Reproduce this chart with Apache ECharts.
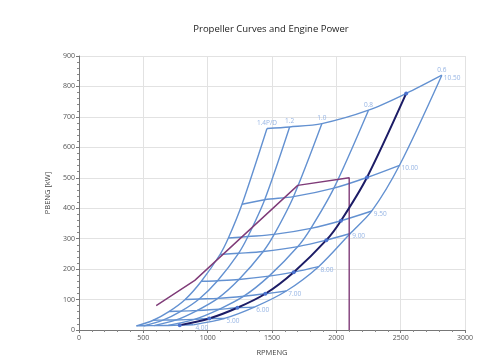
<!DOCTYPE html>
<html><head><meta charset="utf-8">
<script src="https://cdn.jsdelivr.net/npm/echarts@6/dist/echarts.min.js"></script>
<style>html,body{margin:0;padding:0;background:#fff}#c{width:486px;height:362px}</style>
</head><body><div id="c"></div>
<script>
// Speeds (knots) of the constant-speed lines
var speeds = ['4.00','5.00','6.00','7.00','8.00','9.00','9.50','10.00','10.50'];
// Pitch (P/D) lines: RPM and power [kW] at each speed
var pitchNames = ['1.4P/D','1.2','1.0','0.8','0.6'];
var rpm14 = [446, 577, 702, 825, 951, 1096, 1161, 1267, 1461];
var kw14  = [13.5, 32, 61, 100, 160, 248, 302, 413, 662];
var rpm12 = [505, 653, 794, 934, 1077, 1240, 1313, 1443, 1637];
var kw12  = [14, 32.5, 62, 102, 162, 252, 307, 428, 667];
var rpm10 = [583, 755, 917, 1079, 1243, 1432, 1517, 1667, 1888];
var kw10  = [14.5, 33, 64, 104, 166, 258, 314, 438, 678];
var rpm08 = [693, 897, 1089, 1281, 1477, 1701, 1802, 1981, 2250];
var kw08  = [15, 35, 68, 111, 177, 274, 334, 466, 722];
var rpm06 = [889, 1131, 1363, 1611, 1862, 2108, 2276, 2491, 2820];
var kw06  = [17, 38, 75, 128, 208, 317, 391, 541, 837];
// Operating (dark) curve
var rpmOp = [783, 1013, 1231, 1448, 1669, 1922, 2036, 2238, 2543];
var kwOp  = [16, 38, 73, 119, 190, 295, 359, 501, 777];
// Engine power limit
var rpmEng = [600, 900, 1700, 2100, 2100];
var kwEng  = [80, 163, 475, 500, 0];

var pitchRpm = [rpm14, rpm12, rpm10, rpm08, rpm06];
var pitchKw  = [kw14, kw12, kw10, kw08, kw06];

function pairs(a, b) { return a.map(function (v, i) { return [v, b[i]]; }); }

var blue = '#6391d1';
var labelBlue = '#7da3dd';
var font = '"Open Sans", "Noto Sans", sans-serif';
var series = [];

// Pitch lines
pitchRpm.forEach(function (r, k) {
  series.push({ type: 'line', name: pitchNames[k], data: pairs(r, pitchKw[k]), smooth: 0.3,
    showSymbol: false, lineStyle: { color: blue, width: 1.4 }, z: 2, silent: true });
});
// Speed lines (through pitch 1.4,1.2,1.0,0.8, operating, 0.6)
speeds.forEach(function (s, i) {
  var d = [[rpm14[i], kw14[i]], [rpm12[i], kw12[i]], [rpm10[i], kw10[i]], [rpm08[i], kw08[i]], [rpmOp[i], kwOp[i]], [rpm06[i], kw06[i]]];
  series.push({ type: 'line', name: s, data: d, smooth: 0.3, showSymbol: false,
    lineStyle: { color: blue, width: 1.4 }, z: 2, silent: true });
});
// Engine power
series.push({ type: 'line', data: pairs(rpmEng, kwEng), showSymbol: false,
  lineStyle: { color: '#7f3b78', width: 1.4 }, z: 3, silent: true });
// Operating curve
series.push({ type: 'line', data: pairs(rpmOp, kwOp), smooth: 0.3, symbol: 'circle', symbolSize: 4,
  lineStyle: { color: '#1c1c66', width: 2 }, itemStyle: { color: '#4b72cf' }, z: 4, silent: true });
// Speed labels at 0.6 end
series.push({ type: 'scatter', symbolSize: 0, z: 5, silent: true,
  data: speeds.map(function (s, i) { return [rpm06[i], kw06[i], s]; }),
  label: { show: true, position: 'right', distance: 2, offset: [0, 3], color: labelBlue, fontSize: 6.5, fontFamily: font,
    formatter: function (p) { return p.value[2]; } } });
// Pitch labels at top ends
series.push({ type: 'scatter', symbolSize: 0, z: 5, silent: true,
  data: pitchRpm.map(function (r, k) { return [r[8], pitchKw[k][8], pitchNames[k]]; }),
  label: { show: true, position: 'top', distance: 2, color: labelBlue, fontSize: 6.5, fontFamily: font,
    formatter: function (p) { return p.value[2]; } } });

var axisCommon = {
  axisLine: { show: true, lineStyle: { color: '#777', width: 1 } },
  axisTick: { show: true, length: 3, lineStyle: { color: '#777' } },
  minorTick: { show: true, splitNumber: 5, length: 2, lineStyle: { color: '#888' } },
  splitLine: { show: true, lineStyle: { color: '#e2e2e2', width: 1 } },
  axisLabel: { color: '#555', fontSize: 7, fontFamily: font, margin: 4,
    formatter: function (v) { return String(v); } },
  nameTextStyle: { color: '#444', fontSize: 7.5, fontFamily: font }
};

var chart = echarts.init(document.getElementById('c'), null, { renderer: 'canvas' });
chart.setOption({
  animation: false,
  backgroundColor: '#fff',
  title: { text: 'Propeller Curves and Engine Power', left: 266, top: 19, textAlign: 'center',
    textStyle: { fontSize: 9.5, fontWeight: 'normal', color: '#222', fontFamily: font } },
  grid: { left: 79, right: 21, top: 56, bottom: 32 },
  xAxis: Object.assign({}, axisCommon, { type: 'value', min: 0, max: 3000, interval: 500,
    name: 'RPMENG', nameLocation: 'middle', nameGap: 19 }),
  yAxis: Object.assign({}, axisCommon, { type: 'value', min: 0, max: 900, interval: 100,
    name: 'PBENG [kW]', nameLocation: 'middle', nameGap: 22 }),
  series: series
});
</script></body></html>
